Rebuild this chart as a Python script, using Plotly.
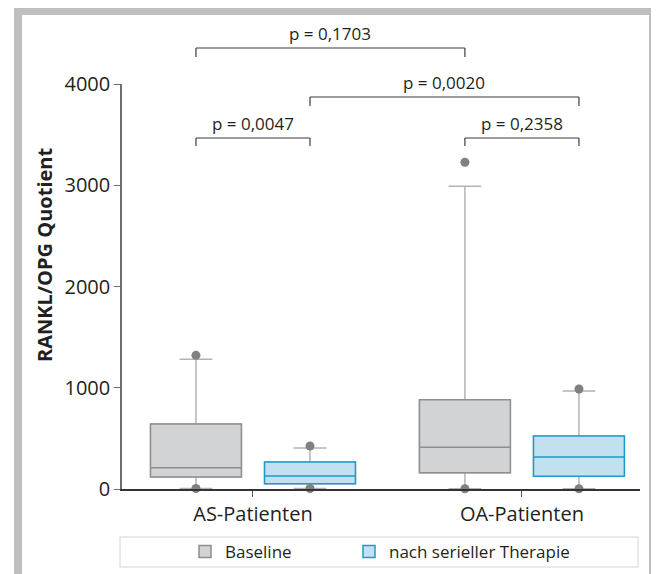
import plotly.graph_objects as go

categories = ["AS-Patienten", "OA-Patienten"]
series_names = ["Baseline", "nach serieller Therapie"]

baseline_q1 = [118, 161]
baseline_median = [210, 412]
baseline_q3 = [642, 882]
baseline_low = [5, 3]
baseline_high = [1281, 2990]
baseline_max = [1320, 3227]
baseline_min = [5, 3]

therapy_q1 = [53, 125]
therapy_median = [128, 316]
therapy_q3 = [267, 523]
therapy_low = [5, 3]
therapy_high = [405, 968]
therapy_max = [425, 988]
therapy_min = [5, 3]

y_ticks = [0, 1000, 2000, 3000, 4000]

p_labels = ["p = 0,1703", "p = 0,0020", "p = 0,0047", "p = 0,2358"]

# page has an 8px body margin: work in reference-pixel coordinates, shifted
OFFPX = 8
W, H = 659 - OFFPX, 574 - OFFPX
ML = 122 - OFFPX
MT = 84 - OFFPX
PLOT_R = 640 - OFFPX
PLOT_B = 489 - OFFPX
MR = W - PLOT_R
MB = H - PLOT_B
PW, PH = PLOT_R - ML, PLOT_B - MT


def px(x):
    return (x - OFFPX - ML) / PW


def py(y):
    return (PLOT_B - (y - OFFPX)) / PH


BOXGAP = 0.152
GROUPGAP = 0.203
OFF = 0.25 * (1 - BOXGAP)

FONT = "Open Sans"
TXT = "#231f20"
GRAY_LINE = "#8e8f91"
WHISK = "#b2b3b5"
BASE_FILL = "#d2d3d5"
TH_FILL = "#c2e0f0"
TH_LINE = "#1e9ac8"
DOT = "#7f8083"

fig = go.Figure()

# whisker layers (gray)
for name, q1, med, q3, lo, hi, grp in [
    (series_names[0], baseline_q1, baseline_median, baseline_q3, baseline_low, baseline_high, "b"),
    (series_names[1], therapy_q1, therapy_median, therapy_q3, therapy_low, therapy_high, "t"),
]:
    fig.add_trace(go.Box(
        x=categories, q1=q1, median=med, q3=q3, lowerfence=lo, upperfence=hi,
        offsetgroup=grp, fillcolor="rgba(0,0,0,0)", line=dict(color=WHISK, width=1.5),
        whiskerwidth=0.36, showlegend=False, hoverinfo="skip", boxpoints=False,
    ))

# boxes
for name, q1, med, q3, grp, fill, lc, leg in [
    (series_names[0], baseline_q1, baseline_median, baseline_q3, "b", BASE_FILL, GRAY_LINE, "legend"),
    (series_names[1], therapy_q1, therapy_median, therapy_q3, "t", TH_FILL, TH_LINE, "legend2"),
]:
    fig.add_trace(go.Box(
        x=categories, q1=q1, median=med, q3=q3, lowerfence=q1, upperfence=q3,
        offsetgroup=grp, fillcolor=fill, line=dict(color=lc, width=1.5),
        whiskerwidth=0, name=name, showlegend=True, boxpoints=False, legend=leg,
    ))

# min / max dots
for name, mx, mn, grp in [
    (series_names[0], baseline_max, baseline_min, "b"),
    (series_names[1], therapy_max, therapy_min, "t"),
]:
    fig.add_trace(go.Scatter(
        x=categories + categories, y=mx + mn, mode="markers", offsetgroup=grp,
        marker=dict(color=DOT, size=9), showlegend=False, cliponaxis=False,
    ))

shapes = []
annotations = []

# frame
shapes.append(dict(type="rect", xref="paper", yref="paper",
                   x0=px(18), x1=px(653), y0=py(600), y1=py(11),
                   line=dict(color="#bdbfc1", width=8), layer="below"))
# legend box
shapes.append(dict(type="rect", xref="paper", yref="paper",
                   x0=px(120), x1=px(638), y0=py(567), y1=py(537),
                   line=dict(color="#d3d4d6", width=1)))

brackets = [
    (0 - OFF, 1 - OFF, 48, 57, 34, p_labels[0]),
    (0 + OFF, 1 + OFF, 97, 106, 82, p_labels[1]),
    (0 - OFF, 0 + OFF, 138, 146, 123, p_labels[2]),
    (1 - OFF, 1 + OFF, 138, 146, 123, p_labels[3]),
]
for xa, xb, ytop, ybot, ytxt, lab in brackets:
    for x0, y0, x1, y1 in [(xa, ybot, xa, ytop), (xa, ytop, xb, ytop), (xb, ytop, xb, ybot)]:
        shapes.append(dict(type="line", xref="x", yref="paper",
                           x0=x0, x1=x1, y0=py(y0), y1=py(y1),
                           line=dict(color="#3a3a3a", width=1.2)))
    annotations.append(dict(x=(xa + xb) / 2, y=py(ytxt), xref="x", yref="paper",
                            text=lab, showarrow=False, xanchor="center", yanchor="middle",
                            font=dict(family=FONT, size=17, color=TXT)))

annotations.append(dict(x=px(44), y=py(255), xref="paper", yref="paper",
                        text="<b>RANKL/OPG Quotient</b>", textangle=-90, showarrow=False,
                        xanchor="center", yanchor="middle",
                        font=dict(family=FONT, size=20, color=TXT)))

legend_style = dict(orientation="h", yanchor="middle", xanchor="left",
                    font=dict(family=FONT, size=17, color=TXT),
                    bgcolor="rgba(0,0,0,0)", borderwidth=0)

fig.update_layout(
    width=W, height=H,
    margin=dict(l=ML, r=MR, t=MT, b=MB, autoexpand=False),
    paper_bgcolor="white", plot_bgcolor="white",
    boxmode="group", boxgap=BOXGAP, boxgroupgap=GROUPGAP,
    scattermode="group", scattergap=BOXGAP,
    shapes=shapes, annotations=annotations,
    font=dict(family=FONT, color=TXT),
    legend=dict(x=px(185), y=py(552), **legend_style),
    legend2=dict(x=px(349), y=py(552), **legend_style),
    xaxis=dict(type="category", range=[-0.487, 1.439], showgrid=False, zeroline=False,
               showline=True, linecolor="#333333", linewidth=1.5,
               ticks="outside", ticklen=6, tickcolor="#555555", tickwidth=1.2,
               tickfont=dict(family=FONT, size=20, color=TXT), fixedrange=True),
    yaxis=dict(range=[0, 4000], tickvals=y_ticks, showgrid=False, zeroline=False,
               showline=True, linecolor="#6d6e70", linewidth=1.5,
               ticks="outside", ticklen=6, tickcolor="#6d6e70", tickwidth=1.2,
               tickfont=dict(family=FONT, size=20, color=TXT), fixedrange=True),
)

fig.write_html("out.html")
